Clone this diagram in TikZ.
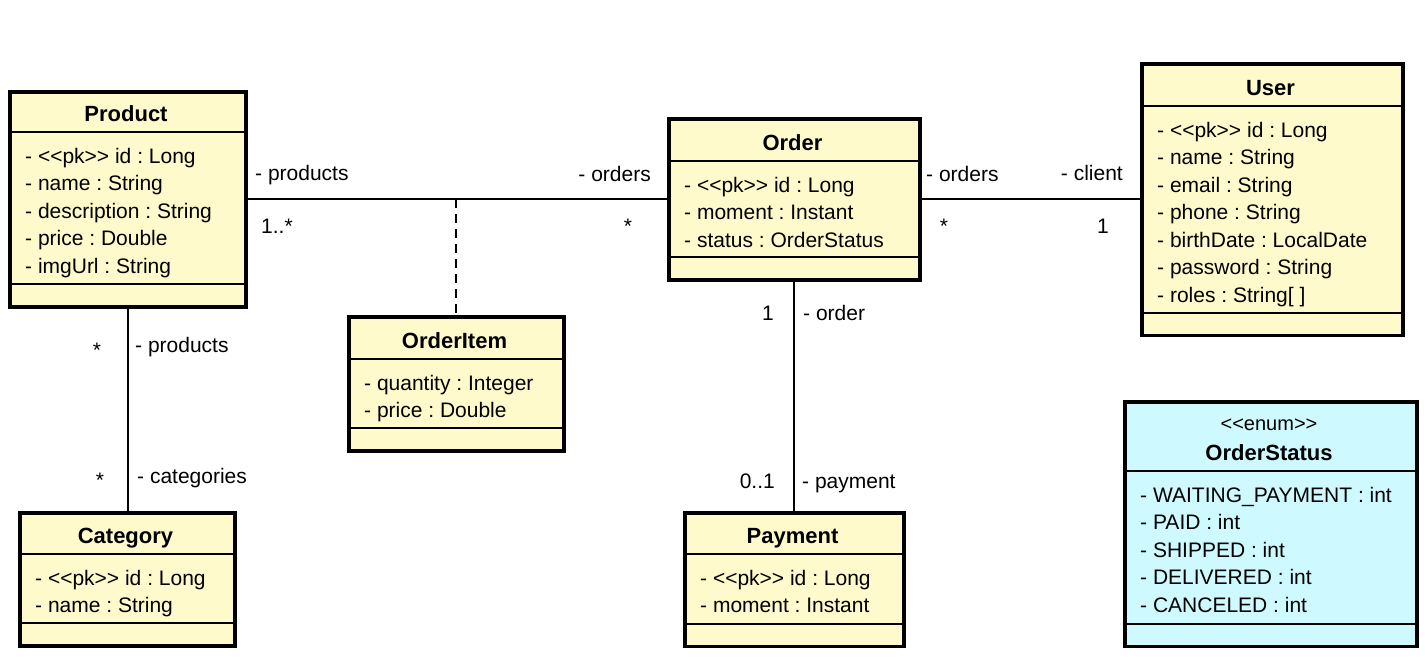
\documentclass[tikz,border=0pt]{standalone}
\usepackage{fontspec}
\setmainfont{Liberation Sans}
\frenchspacing
\definecolor{clsyellow}{RGB}{255,250,204}
\definecolor{clscyan}{RGB}{205,249,255}
\tikzset{
  cbox/.style={draw=black, line width=3.5pt, inner sep=0pt, anchor=north west},
  sepline/.style={draw=black, line width=2pt},
  conn/.style={draw=black, line width=1.8pt},
  assocline/.style={draw=black, line width=1.8pt, dash pattern=on 9pt off 6pt},
  attr/.style={anchor=base west, inner sep=0pt, font=\fontsize{21}{25}\selectfont},
  ttl/.style={anchor=base, inner sep=0pt, font=\fontsize{22}{26}\selectfont\bfseries},
  stereo/.style={anchor=base, inner sep=0pt, font=\fontsize{20}{24}\selectfont},
  lbl/.style={inner sep=0pt, font=\fontsize{21}{25}\selectfont}
}
% #1 name, #2 left, #3 top, #4 right, #5 title separator, #6 attribute separator, #7 fill, #8 title, #9 attributes
\newcommand{\classbox}[9]{%
  \node[cbox, fill=#7, minimum width={#4-#2}, minimum height={#6+21-#3}] (#1) at (#2,#3) {};
  \draw[sepline] (#1.west |- 0,#5) -- (#1.east |- 0,#5);
  \draw[sepline] (#1.west |- 0,#6) -- (#1.east |- 0,#6);
  \node[ttl] (#1-t) at ({(#2+#4)/2},#5-11) {#8};
  \foreach \attrtxt [count=\i] in {#9} {\node[attr] (#1-a\i) at (#2+17,{#5+31+27.5*(\i-1)}) {\attrtxt};}
}
\begin{document}
\begin{tikzpicture}[x=1pt,y=-1pt]
\useasboundingbox (0,0) rectangle (1425,662);
\fill[white] (0,0) rectangle (1425,662);

\classbox{product}{8}{90}{244}{132}{284}{clsyellow}{Product}{- <{}<pk>{}> id : Long, - name : String, - description : String, - price : Double, - imgUrl : String}
\classbox{order}{667}{117}{918}{161}{257}{clsyellow}{Order}{- <{}<pk>{}> id : Long, - moment : Instant, - status : OrderStatus}
\classbox{user}{1140}{62}{1401}{106}{312.5}{clsyellow}{User}{- <{}<pk>{}> id : Long, - name : String, - email : String, - phone : String, - birthDate : LocalDate, - password : String, - roles : String[ ]}
\classbox{orderitem}{347}{315}{562}{359}{428}{clsyellow}{OrderItem}{- quantity : Integer, - price : Double}
\classbox{category}{18}{511}{233}{554}{623}{clsyellow}{Category}{- <{}<pk>{}> id : Long, - name : String}
\classbox{payment}{683}{511}{902}{554}{623.5}{clsyellow}{Payment}{- <{}<pk>{}> id : Long, - moment : Instant}
\classbox{orderstatus}{1123}{400}{1415}{471}{623.5}{clscyan}{OrderStatus}{- WAITING\_PAYMENT : int, - PAID : int, - SHIPPED : int, - DELIVERED : int, - CANCELED : int}
\node[stereo] (orderstatus-s) at (1269,430) {<{}<enum>{}>};

% connectors
\draw[conn] (product.east) -- (product.east -| order.west);
\draw[conn] (order.east) -- (order.east -| user.west);
\draw[conn] (product.south) -- (product.south |- category.north);
\draw[conn] (order.south) -- (order.south |- payment.north);
\coordinate (assocpt) at (orderitem.north |- product.east);
\draw[assocline] (assocpt) -- (orderitem.north);

% labels
\node[lbl, anchor=base west] (l-prod1) at (255,180) {- products};
\node[lbl, anchor=base west] (m-prod1) at (261,233) {1..*};
\node[lbl, anchor=base east] (l-ord1) at (651,181) {- orders};
\node[lbl, anchor=base] (m-ord1) at (628,233) {*};
\node[lbl, anchor=base west] (l-ord2) at (926,181) {- orders};
\node[lbl, anchor=base] (m-ord2) at (944,233) {*};
\node[lbl, anchor=base east] (l-client) at (1123,180) {- client};
\node[lbl, anchor=base east] (m-client) at (1109,233) {1};
\node[lbl, anchor=base east] (m-order) at (774,320) {1};
\node[lbl, anchor=base west] (l-order) at (803,320) {- order};
\node[lbl, anchor=base east] (m-pay) at (775,488) {0..1};
\node[lbl, anchor=base west] (l-pay) at (802,488) {- payment};
\node[lbl, anchor=base] (m-prod2) at (97,357) {*};
\node[lbl, anchor=base west] (l-prod2) at (135,352) {- products};
\node[lbl, anchor=base] (m-cat) at (100,487) {*};
\node[lbl, anchor=base west] (l-cat) at (137,483) {- categories};
\end{tikzpicture}
\end{document}
